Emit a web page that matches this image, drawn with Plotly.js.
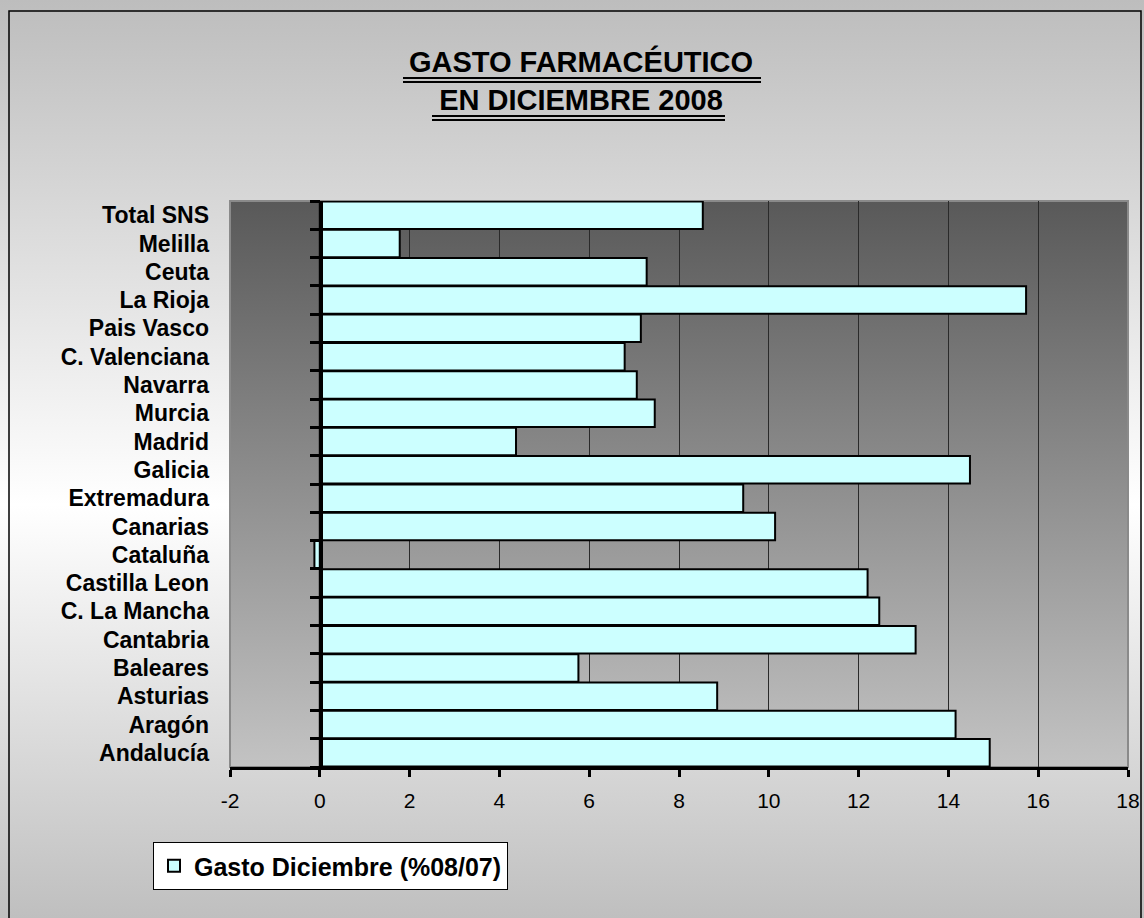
<!DOCTYPE html>
<html>
<head>
<meta charset="utf-8">
<script src="https://cdn.plot.ly/plotly-3.0.1.min.js"></script>
<style>
  body { margin: 0; padding: 0; }
  #chart { width: 1144px; height: 918px; }
</style>
</head>
<body>
<div id="chart"></div>
<script>
// regions, bottom to top as drawn
var regiones = ['Andalucía', 'Aragón', 'Asturias', 'Baleares', 'Cantabria', 'C. La Mancha',
  'Castilla Leon', 'Cataluña', 'Canarias', 'Extremadura', 'Galicia', 'Madrid', 'Murcia',
  'Navarra', 'C. Valenciana', 'Pais Vasco', 'La Rioja', 'Ceuta', 'Melilla', 'Total SNS'];
var gasto = [14.92, 14.16, 8.85, 5.76, 13.27, 12.46, 12.20, -0.12, 10.14, 9.43, 14.48,
  4.37, 7.46, 7.06, 6.79, 7.15, 15.73, 7.28, 1.78, 8.53];
var xTicks = [-2, 0, 2, 4, 6, 8, 10, 12, 14, 16, 18];
var xTickText = ['-2', '0', '2', '4', '6', '8', '10', '12', '14', '16', '18'];
var serieNombre = 'Gasto Diciembre (%08/07)';
var titulo = ['GASTO FARMACÉUTICO', 'EN DICIEMBRE 2008'];

var W = 1144, H = 918;
var m = {l: 230, r: 16, t: 201, b: 151};
var pw = W - m.l - m.r, ph = H - m.t - m.b;
// pixel -> paper helpers (for decoration only)
function px(x) { return (x - m.l) / pw; }
function py(y) { return (H - m.b - y) / ph; }

function grad(stops) {
  var s = '<svg xmlns="http://www.w3.org/2000/svg" width="100" height="100" preserveAspectRatio="none">' +
    '<defs><linearGradient id="g" x1="0" y1="0" x2="0" y2="1">';
  stops.forEach(function (st) { s += '<stop offset="' + st[0] + '" stop-color="' + st[1] + '"/>'; });
  s += '</linearGradient></defs><rect width="100" height="100" fill="url(#g)"/></svg>';
  return 'data:image/svg+xml;utf8,' + encodeURIComponent(s);
}

var font = '"Liberation Sans", Arial, sans-serif';

var barras = {
  type: 'bar',
  orientation: 'h',
  y: regiones,
  x: gasto,
  name: serieNombre,
  marker: {color: '#ccffff', line: {color: '#000000', width: 2}},
  hoverinfo: 'x+y'
};

// invisible copy so the zero-axis with boundary ticks knows the categories
var ejeCero = {
  type: 'scatter',
  mode: 'none',
  y: regiones,
  x: gasto,
  yaxis: 'y2',
  showlegend: false,
  hoverinfo: 'skip'
};

var subrayado = [];
[[403, 761, 78, 82], [432, 725, 116, 120]].forEach(function (u) {
  [u[2], u[3]].forEach(function (yy) {
    subrayado.push({type: 'line', xref: 'paper', yref: 'paper',
      x0: px(u[0]), x1: px(u[1]), y0: py(yy), y1: py(yy),
      line: {color: '#000', width: 2}});
  });
});

var layout = {
  width: W, height: H,
  margin: m,
  paper_bgcolor: 'rgba(0,0,0,0)',
  plot_bgcolor: 'rgba(0,0,0,0)',
  font: {family: font, color: '#000'},
  showlegend: true,
  bargap: 0.03,
  title: {
    text: '<b>' + titulo[0] + '</b><br><b>' + titulo[1] + '</b>',
    font: {family: font, size: 29, color: '#000'},
    xref: 'paper', x: px(581), xanchor: 'center',
    yref: 'container', y: 1 - 72 / H, yanchor: 'top'
  },
  xaxis: {
    range: [-2, 18], tickmode: 'array', tickvals: xTicks, ticktext: xTickText,
    showgrid: true, gridcolor: '#2a2a2a', gridwidth: 1,
    zeroline: false,
    showline: true, linecolor: '#000', linewidth: 3,
    ticks: 'outside', ticklen: 7, tickwidth: 3, tickcolor: '#000',
    ticklabelstandoff: 6,
    tickfont: {family: font, size: 21, color: '#000'}
  },
  yaxis: {
    type: 'category', categoryarray: regiones, categoryorder: 'array',
    range: [-0.5, regiones.length - 0.5],
    showline: false, showgrid: false, zeroline: false, ticks: '',
    ticklabelstandoff: 20,
    tickfont: {family: font, size: 23, color: '#000', weight: 'bold'}
  },
  yaxis2: {
    type: 'category', categoryarray: regiones, categoryorder: 'array',
    range: [-0.5, regiones.length - 0.5],
    overlaying: 'y', anchor: 'free', side: 'left',
    position: px(321),
    showline: true, linecolor: '#000', linewidth: 3,
    ticks: 'outside', tickson: 'boundaries', ticklen: 10, tickwidth: 3, tickcolor: '#000',
    showticklabels: false, showgrid: false, zeroline: false
  },
  legend: {
    x: px(153), xanchor: 'left', y: py(842), yanchor: 'top',
    bgcolor: '#ffffff', bordercolor: '#000', borderwidth: 1,
    font: {family: font, size: 25, color: '#000', weight: 'bold'}
  },
  images: [
    {source: grad([[0, '#bdbdbd'], [0.55, '#ffffff'], [1, '#bfbfbf']]),
      xref: 'paper', yref: 'paper', x: px(0), y: py(0), sizex: W / pw, sizey: H / ph,
      xanchor: 'left', yanchor: 'top', sizing: 'stretch', layer: 'below'},
    {source: grad([[0, '#595959'], [1, '#c3c3c3']]),
      xref: 'paper', yref: 'paper', x: 0, y: 1, sizex: 1, sizey: 1,
      xanchor: 'left', yanchor: 'top', sizing: 'stretch', layer: 'below'}
  ],
  shapes: [
    {type: 'rect', xref: 'paper', yref: 'paper', x0: 0, x1: 1, y0: 0, y1: 1,
      line: {color: '#8a8a8a', width: 2}, layer: 'below'},
    {type: 'rect', xref: 'paper', yref: 'paper', x0: px(9), x1: px(1141), y0: py(11), y1: py(930),
      line: {color: '#000', width: 1.5}}
  ].concat(subrayado)
};

Plotly.newPlot('chart', [barras, ejeCero], layout, {displayModeBar: false});
</script>
</body>
</html>
